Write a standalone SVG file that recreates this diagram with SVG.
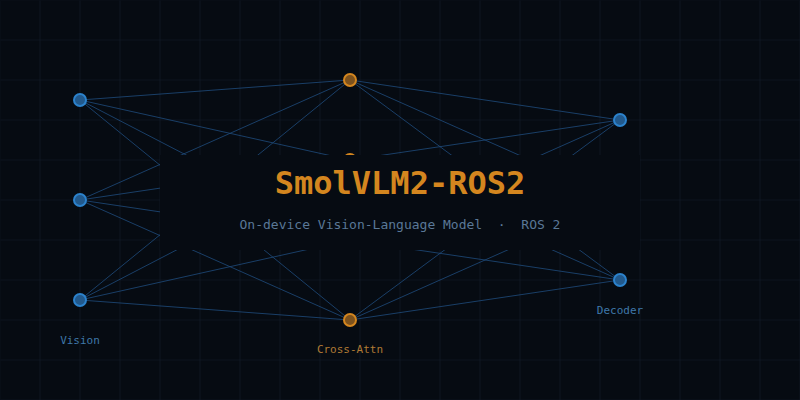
<svg xmlns="http://www.w3.org/2000/svg" width="800" height="400" viewBox="0 0 800 400">
  <defs>
    <pattern id="grid" width="40" height="40" patternUnits="userSpaceOnUse">
      <path d="M40 0V40M0 40H40" fill="none" stroke="#111c29" stroke-width="1.2"/>
    </pattern>
  </defs>
  <style>
    .edge { stroke: #1f4b7c; stroke-width: 0.9; fill: none; opacity: 0.9; }
    .nb { fill: #22598c; stroke: #2c82cc; stroke-width: 2; }
    .no { fill: #7d521d; stroke: #d4861f; stroke-width: 2; }
    .lbl { font-family: "DejaVu Sans Mono", "Liberation Mono", monospace; font-size: 11px; text-anchor: middle; }
  </style>
  <rect width="800" height="400" fill="#060b12"/>
  <rect width="800" height="400" fill="url(#grid)" transform="translate(0.5 0.5)"/>
  <g id="connectors">
    <line class="edge" x1="80" y1="100" x2="350" y2="80"/>
    <line class="edge" x1="80" y1="100" x2="350" y2="160"/>
    <line class="edge" x1="80" y1="100" x2="350" y2="240"/>
    <line class="edge" x1="80" y1="100" x2="350" y2="320"/>
    <line class="edge" x1="80" y1="200" x2="350" y2="80"/>
    <line class="edge" x1="80" y1="200" x2="350" y2="160"/>
    <line class="edge" x1="80" y1="200" x2="350" y2="240"/>
    <line class="edge" x1="80" y1="200" x2="350" y2="320"/>
    <line class="edge" x1="80" y1="300" x2="350" y2="80"/>
    <line class="edge" x1="80" y1="300" x2="350" y2="160"/>
    <line class="edge" x1="80" y1="300" x2="350" y2="240"/>
    <line class="edge" x1="80" y1="300" x2="350" y2="320"/>
    <line class="edge" x1="350" y1="80" x2="620" y2="120"/>
    <line class="edge" x1="350" y1="80" x2="620" y2="200"/>
    <line class="edge" x1="350" y1="80" x2="620" y2="280"/>
    <line class="edge" x1="350" y1="160" x2="620" y2="120"/>
    <line class="edge" x1="350" y1="160" x2="620" y2="200"/>
    <line class="edge" x1="350" y1="160" x2="620" y2="280"/>
    <line class="edge" x1="350" y1="240" x2="620" y2="120"/>
    <line class="edge" x1="350" y1="240" x2="620" y2="200"/>
    <line class="edge" x1="350" y1="240" x2="620" y2="280"/>
    <line class="edge" x1="350" y1="320" x2="620" y2="120"/>
    <line class="edge" x1="350" y1="320" x2="620" y2="200"/>
    <line class="edge" x1="350" y1="320" x2="620" y2="280"/>
  </g>
  <g id="vision">
    <circle class="nb" cx="80" cy="100" r="6"/>
    <circle class="nb" cx="80" cy="200" r="6"/>
    <circle class="nb" cx="80" cy="300" r="6"/>
    <text class="lbl" x="80" y="344" fill="#3f78aa">Vision</text>
  </g>
  <g id="cross-attn">
    <circle class="no" cx="350" cy="80" r="6"/>
    <circle class="no" cx="350" cy="160" r="6"/>
    <circle class="no" cx="350" cy="240" r="6"/>
    <circle class="no" cx="350" cy="320" r="6"/>
    <text class="lbl" x="350" y="353" fill="#b07a34">Cross-Attn</text>
  </g>
  <g id="decoder">
    <circle class="nb" cx="620" cy="120" r="6"/>
    <circle class="nb" cx="620" cy="200" r="6"/>
    <circle class="nb" cx="620" cy="280" r="6"/>
    <text class="lbl" x="620" y="314" fill="#3f78aa">Decoder</text>
  </g>
  <g id="title-panel">
    <rect x="160" y="155" width="480" height="95" fill="#060b12"/>
    <text x="400" y="194" text-anchor="middle" font-family="DejaVu Sans Mono, Liberation Mono, monospace" font-size="32" font-weight="bold" fill="#d4861f">SmolVLM2-ROS2</text>
    <text x="400" y="229" text-anchor="middle" font-family="DejaVu Sans Mono, Liberation Mono, monospace" font-size="13" fill="#5a7897" xml:space="preserve">On-device Vision-Language Model  ·  ROS 2</text>
  </g>
</svg>
